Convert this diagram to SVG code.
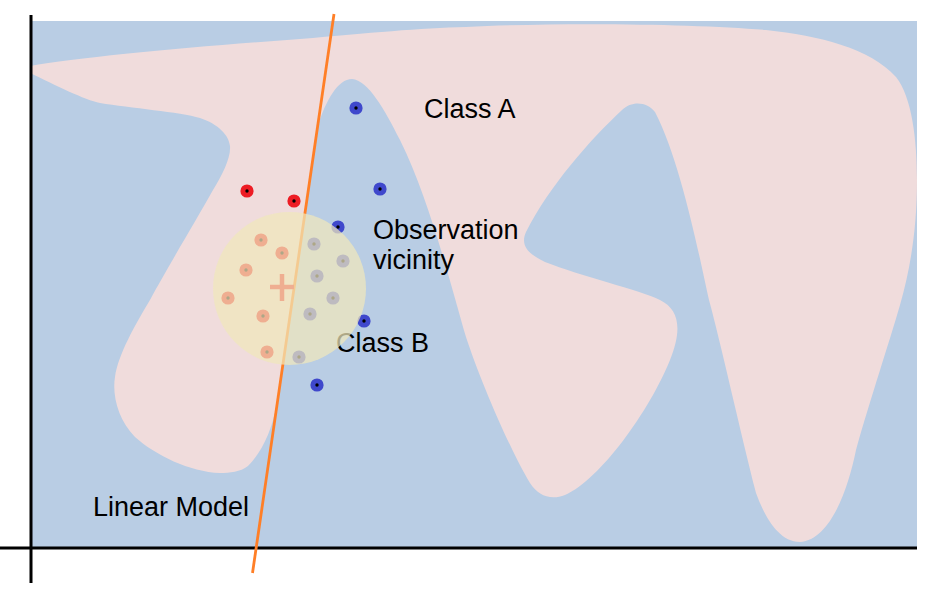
<svg xmlns="http://www.w3.org/2000/svg" width="932" height="609" viewBox="0 0 932 609">
<style>
.lbl{font-family:"Liberation Sans",Arial,sans-serif;font-size:27px;fill:#000}
.red{fill:#ed1c24}
.blue{fill:#3f48cc}
.ctr{fill:#000}
.axis{stroke:#000;stroke-width:3;fill:none}
</style>
<defs>
<g id="rdot"><circle r="6.6" class="red"/><circle r="1.7" class="ctr"/></g>
<g id="bdot"><circle r="6.6" class="blue"/><circle r="1.7" class="ctr"/></g>
</defs>
<rect width="932" height="609" fill="#fff"/>
<g id="field">
<rect x="32" y="21" width="885" height="527" fill="#b9cde4"/>
<path id="classA-region" fill="#f0dcdc" d="M30,66 C80,57 200,46 300,39 C370,33 420,28 466,27 C560,22 700,24 766,30 C820,36 870,48 896,77 C912,97 917,140 917,180 C917,230 910,270 900,305 C890,340 870,400 856,450 C848,490 830,540 800,542 C778,542 764,515 756,493 C740,430 720,340 709,300 C698,250 680,160 655,112 C648,102 632,100 622,110 C590,140 550,185 526,232 C520,245 528,254 545,262 C580,276 640,290 660,300 C680,310 682,330 670,360 C650,410 600,480 565,495 C550,501 538,495 530,483 C510,450 480,380 466,337 C452,290 430,200 400,140 C385,110 368,80 352,79 C338,79 326,100 317.5,127 L305,215 L276.6,405 C272,430 262,452 248,466 C240,472 230,473 220,473 C190,472 155,455 135,437 C118,420 112,395 115,377 C118,355 135,325 150,300 C165,272 195,222 213,190 C222,175 231,158 230,146 C229,135 218,124 200,118 C180,112 130,108 100,103 C85,100 55,85 30,73 Z"/>
</g>
<g id="axes">
<line class="axis" x1="31" y1="15" x2="31" y2="583"/>
<line class="axis" x1="0" y1="548" x2="917" y2="548"/>
</g>
<g id="linear-model-line">
<line x1="334" y1="14" x2="252.5" y2="573" stroke="#ff7f27" stroke-width="2.8"/>
</g>
<g id="points">
<use href="#rdot" x="247" y="191"/>
<use href="#rdot" x="294" y="201"/>
<use href="#rdot" x="261" y="240"/>
<use href="#rdot" x="282" y="253"/>
<use href="#rdot" x="246" y="270"/>
<use href="#rdot" x="228" y="298"/>
<use href="#rdot" x="263" y="316"/>
<use href="#rdot" x="267" y="352"/>
<use href="#bdot" x="356" y="108"/>
<use href="#bdot" x="380" y="189"/>
<use href="#bdot" x="338" y="227"/>
<use href="#bdot" x="364" y="321"/>
<use href="#bdot" x="317" y="385"/>
<use href="#bdot" x="314" y="244"/>
<use href="#bdot" x="343" y="261"/>
<use href="#bdot" x="317" y="276"/>
<use href="#bdot" x="333" y="298"/>
<use href="#bdot" x="310" y="314"/>
<use href="#bdot" x="299" y="357"/>
</g>
<g id="observation">
<path d="M270,287 H294 M282,274 V301" stroke="#ed1c24" stroke-width="4.5" fill="none"/>
</g>
<g id="labels">
<text class="lbl" x="424" y="118">Class A</text>
<text class="lbl" x="373" y="239">Observation</text>
<text class="lbl" x="373" y="269">vicinity</text>
<text class="lbl" x="336" y="352">Class B</text>
<text class="lbl" x="93" y="516">Linear Model</text>
</g>
<g id="vicinity">
<circle cx="289.5" cy="288.5" r="76.5" fill="#f0e7bb" fill-opacity="0.72"/>
</g>
</svg>
